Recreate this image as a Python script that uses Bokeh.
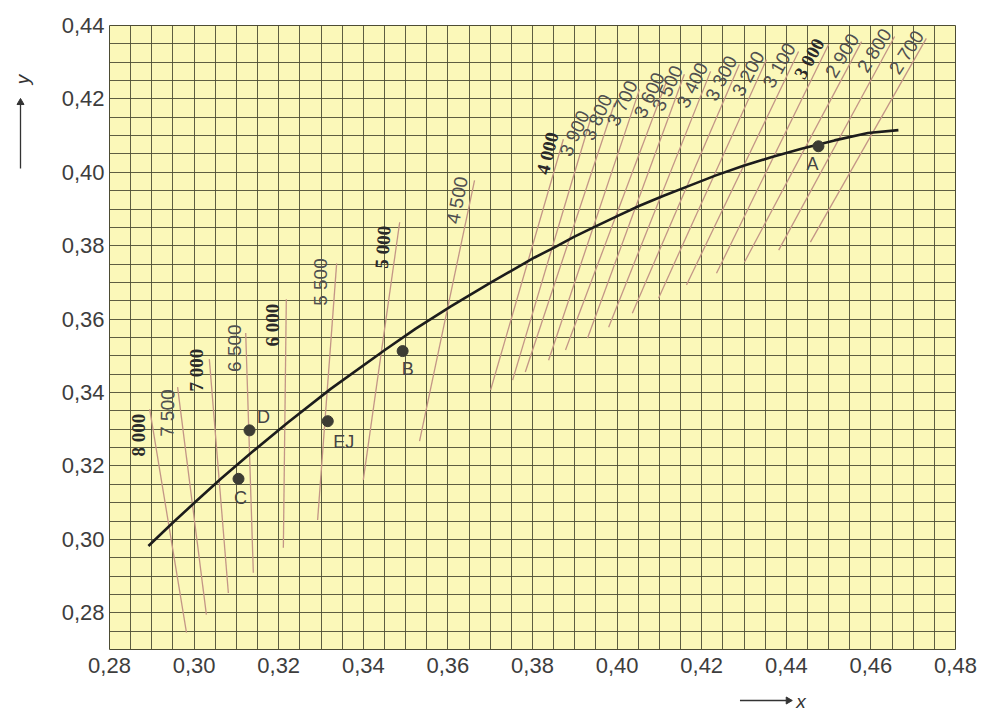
import math
from bokeh.plotting import figure
from bokeh.layouts import row, column
from bokeh.models import Range1d, FixedTicker, CustomJSTickFormatter, ColumnDataSource
from bokeh.core.properties import value
from bokeh.embed import file_html
from bokeh.resources import INLINE

# Planckian locus in CIE 1931 (x, y)
locus_x = [0.2892, 0.2952, 0.3004, 0.3064, 0.3135, 0.3221, 0.3323, 0.3451, 0.3524,
           0.3607, 0.3700, 0.3805, 0.3851, 0.3898, 0.3948, 0.3999, 0.4053, 0.4110,
           0.4170, 0.4232, 0.4297, 0.4366, 0.4438, 0.4514, 0.4593, 0.4665]
locus_y = [0.2982, 0.3048, 0.3103, 0.3166, 0.3236, 0.3318, 0.3410, 0.3516, 0.3574,
           0.3635, 0.3699, 0.3768, 0.3795, 0.3824, 0.3852, 0.3880, 0.3909, 0.3936,
           0.3963, 0.3991, 0.4017, 0.4042, 0.4065, 0.4087, 0.4107, 0.4115]

# Isotemperature lines: colour temperature and the two ends of each line
iso_temp = [8000, 7500, 7000, 6500, 6000, 5500, 5000, 4500, 4000, 3900, 3800,
            3700, 3600, 3500, 3400, 3300, 3200, 3100, 3000, 2900, 2800, 2700]
iso_x_low = [0.2982, 0.3029, 0.3081, 0.3140, 0.3211, 0.3292, 0.3400, 0.3533, 0.3701,
             0.3753, 0.3783, 0.3838, 0.3878, 0.3930, 0.3980, 0.4036, 0.4098, 0.4164,
             0.4235, 0.4301, 0.4382, 0.4457]
iso_y_low = [0.2746, 0.2795, 0.2854, 0.2909, 0.2977, 0.3053, 0.3162, 0.3268, 0.3407,
             0.3434, 0.3456, 0.3488, 0.3516, 0.3548, 0.3578, 0.3616, 0.3657, 0.3693,
             0.3725, 0.3755, 0.3788, 0.3810]
iso_x_high = [0.2895, 0.2961, 0.3036, 0.3122, 0.3218, 0.3337, 0.3486, 0.3663, 0.3873,
              0.3937, 0.3994, 0.4053, 0.4117, 0.4159, 0.4221, 0.4289, 0.4353, 0.4429,
              0.4500, 0.4578, 0.4656, 0.4731]
iso_y_high = [0.3355, 0.3415, 0.3491, 0.3562, 0.3654, 0.3752, 0.3864, 0.3978, 0.4090,
              0.4144, 0.4188, 0.4226, 0.4248, 0.4267, 0.4275, 0.4294, 0.4307, 0.4329,
              0.4348, 0.4356, 0.4370, 0.4365]
iso_text = ["8 000", "7 500", "7 000", "6 500", "6 000", "5 500", "5 000", "4 500",
            "4 000", "3 900", "3 800", "3 700", "3 600", "3 500", "3 400", "3 300",
            "3 200", "3 100", "3 000", "2 900", "2 800", "2 700"]

# where each temperature label sits, and its slant in degrees
iso_lab_x = [0.2869, 0.2937, 0.3006, 0.3096, 0.3186, 0.3299, 0.3446, 0.3622, 0.3835,
             0.3899, 0.3953, 0.4012, 0.4076, 0.4119, 0.4178, 0.4246, 0.4310, 0.4383,
             0.4454, 0.4532, 0.4608, 0.4684]
iso_lab_y = [0.3284, 0.3344, 0.3461, 0.3521, 0.3584, 0.3701, 0.3796, 0.3924, 0.4052,
             0.4106, 0.4150, 0.4188, 0.4210, 0.4229, 0.4237, 0.4256, 0.4269, 0.4291,
             0.4310, 0.4318, 0.4332, 0.4327]
iso_lab_angle = [90, 89, 90, 90, 90, 90, 86, 79, 76, 66, 66, 65, 65, 65, 64, 63,
                 62, 61, 61, 59, 58, 57]
bold_temps = {8000, 7000, 6000, 5000, 4000, 3000}

# Reference illuminants
pt_name = ["A", "B", "C", "D", "EJ"]
pt_x = [0.4476, 0.3493, 0.3105, 0.3131, 0.3316]
pt_y = [0.4071, 0.3513, 0.3165, 0.3297, 0.3322]
pt_dx = [-6, 5, 2, 14, 16]
pt_dy = [18, 18, 19, -13, 21]

# axis ticks
x_ticks = [0.28, 0.30, 0.32, 0.34, 0.36, 0.38, 0.40, 0.42, 0.44, 0.46, 0.48]
y_ticks = [0.28, 0.30, 0.32, 0.34, 0.36, 0.38, 0.40, 0.42, 0.44]

GRID = "#4d4c34"
INK = "#333333"


def blank(w, h, xr, yr):
    """A bare drawing strip used for the axis symbols around the chart."""
    f = figure(width=w, height=h, output_backend="svg", toolbar_location=None,
               x_range=Range1d(*xr), y_range=Range1d(*yr),
               x_axis_type=None, y_axis_type=None, min_border=0)
    f.outline_line_color = None
    f.background_fill_color = "white"
    f.border_fill_color = "white"
    f.grid.visible = False
    return f


p = figure(width=946, height=690, output_backend="svg", toolbar_location=None,
           x_range=Range1d(0.28, 0.48), y_range=Range1d(0.27, 0.44),
           min_border_left=69, min_border_right=31, min_border_top=25,
           min_border_bottom=41)
p.background_fill_color = "#fbf8b9"
p.border_fill_color = "white"
p.outline_line_color = GRID
p.outline_line_width = 1

grid_x = [round(0.28 + 0.005 * i, 3) for i in range(41)]
grid_y = [round(0.27 + 0.005 * i, 3) for i in range(35)]
p.xgrid.ticker = FixedTicker(ticks=grid_x)
p.ygrid.ticker = FixedTicker(ticks=grid_y)
for g in (p.xgrid, p.ygrid):
    g.grid_line_color = GRID
    g.grid_line_width = 1
    g.grid_line_alpha = 0.9

fmt = CustomJSTickFormatter(code="return tick.toFixed(2).replace('.', ',');")
p.xaxis.ticker = FixedTicker(ticks=x_ticks)
p.yaxis.ticker = FixedTicker(ticks=y_ticks)
for ax in (p.xaxis, p.yaxis):
    ax.formatter = fmt
    ax.axis_line_color = None
    ax.major_tick_line_color = None
    ax.minor_tick_line_color = None
    ax.major_tick_out = 0
    ax.major_tick_in = 0
    ax.major_label_text_font = "Liberation Sans"
    ax.major_label_text_font_size = "22px"
    ax.major_label_text_color = "#3d3d3d"
p.xaxis.major_label_standoff = 8
p.yaxis.major_label_standoff = 5

# isotemperature lines
p.segment(x0=iso_x_low, y0=iso_y_low, x1=iso_x_high, y1=iso_y_high,
          line_color="#c39586", line_width=1.3)

# temperature labels
reg = dict(x=[], y=[], t=[], a=[])
bld = dict(x=[], y=[], t=[], a=[])
for T, lx, ly, lt, la in zip(iso_temp, iso_lab_x, iso_lab_y, iso_text, iso_lab_angle):
    d = bld if T in bold_temps else reg
    d["x"].append(lx); d["y"].append(ly); d["t"].append(lt)
    d["a"].append(math.radians(la))
p.text(x="x", y="y", text="t", angle="a", source=ColumnDataSource(reg),
       text_font=value("Liberation Sans"), text_font_size="19px",
       text_color="#505050", text_align="center", text_baseline="middle")
p.text(x="x", y="y", text="t", angle="a", source=ColumnDataSource(bld),
       text_font=value("Liberation Serif"), text_font_size="19px",
       text_font_style="bold", text_color="#2a2a2a", text_align="center",
       text_baseline="middle")

# Planckian locus
p.line(locus_x, locus_y, line_color="#1c1c1c", line_width=2.6)

# illuminant points
p.scatter(pt_x, pt_y, size=11, color="#3c3c34")
p.text(x=pt_x, y=pt_y, text=pt_name, x_offset=pt_dx, y_offset=pt_dy,
       text_font=value("Liberation Sans"), text_font_size="18px",
       text_color="#444444", text_align="center", text_baseline="middle")

# y symbol with its arrow, in a strip left of the chart (pixel coordinates)
left = blank(40, 726, (0, 40), (726, 0))
left.segment(x0=[20], y0=[168], x1=[20], y1=[104], line_color=INK, line_width=1.3)
left.scatter(x=[20], y=[102], marker="triangle", size=7, color=INK)
left.text(x=[22], y=[79], text=["y"], angle=math.pi / 2,
          text_font=value("Liberation Sans"), text_font_size="19px",
          text_font_style="italic", text_color=INK, text_align="center",
          text_baseline="middle")

# x symbol with its arrow, in a strip below the chart (pixel coordinates)
bottom = blank(946, 36, (40, 986), (726, 690))
bottom.segment(x0=[745], y0=[700], x1=[797], y1=[700], line_color=INK, line_width=1.3)
bottom.scatter(x=[799], y=[700], marker="triangle", angle=-math.pi / 2, size=7,
               color=INK)
bottom.text(x=[808], y=[701], text=["x"], text_font=value("Liberation Sans"),
            text_font_size="19px", text_font_style="italic", text_color=INK,
            text_align="left", text_baseline="middle")

page = row(left, column(p, bottom, spacing=0), spacing=0)
open("out.html", "w").write(file_html(page, INLINE))
